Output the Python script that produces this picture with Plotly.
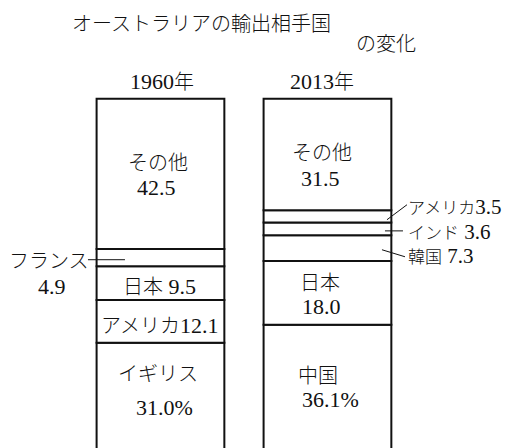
import plotly.graph_objects as go

# Export partners of Australia, share of exports (%), listed top to bottom
years = ["1960", "2013"]
partners_1960 = ["その他", "フランス", "日本", "アメリカ", "イギリス"]
shares_1960 = [42.5, 4.9, 9.5, 12.1, 31.0]
partners_2013 = ["その他", "アメリカ", "インド", "韓国", "日本", "中国"]
shares_2013 = [31.5, 3.5, 3.6, 7.3, 18.0, 36.1]

title_main = "オーストラリアの輸出相手国"
title_sub = "の変化"

W, H = 517, 448
TOP = 97
NUM = "Liberation Serif"
JP = "Noto Sans CJK JP"
INK = "#111111"
NUM_SIZE = 22
JP_SIZE = 20


def jp(s, size=JP_SIZE):
    """Wrap Japanese text in a span using the gothic face."""
    return f"<span style='font-family:{JP};font-size:{size}px;font-weight:300'>{s}</span>"


def num(s, size=NUM_SIZE):
    return f"<span style='font-size:{size}px'>{s}</span>"


def stack(names, vals):
    """Return bottom-up bases and segment midpoints keyed by partner name."""
    names_up = list(reversed(names))
    vals_up = list(reversed(vals))
    bases, mids, acc = [], {}, 0.0
    for n, v in zip(names_up, vals_up):
        bases.append(acc)
        mids[n] = acc + v / 2
        acc += v
    return names_up, vals_up, bases, mids


fig = go.Figure()
stacks = []
for i, (names, vals) in enumerate([(partners_1960, shares_1960), (partners_2013, shares_2013)]):
    n_up, v_up, b_up, mids = stack(names, vals)
    stacks.append((names, vals, mids))
    fig.add_trace(go.Bar(
        x=[i] * len(v_up), y=v_up, base=b_up, width=0.765,
        marker=dict(color="white", line=dict(color=INK, width=2)),
        hoverinfo="skip", showlegend=False,
    ))


def fmt(v, pct=False):
    return f"{v:.1f}" + ("%" if pct else "")


annotations = []


def label(text, xi, yv, dx, dy, anchor="center", size=NUM_SIZE):
    annotations.append(dict(
        text=text, x=xi, y=yv, xref="x", yref="y", showarrow=False,
        xanchor=anchor, yanchor="middle", xshift=dx, yshift=dy, align="left",
        font=dict(family=NUM, size=size, color=INK),
    ))


# 1960 labels
names, vals, mids = stacks[0]
v = dict(zip(names, vals))
label(jp("その他"), 0, mids["その他"], -2, 12)
label(fmt(v["その他"]), 0, mids["その他"], -4, -14)
label(jp("フランス"), 0, mids["フランス"], -111, -2)
label(fmt(v["フランス"]), 0, mids["フランス"], -108, -29)
label(jp("日本") + " " + fmt(v["日本"]), 0, mids["日本"], -1, -2)
label(jp("アメリカ") + fmt(v["アメリカ"]), 0, mids["アメリカ"], 0, -3)
label(jp("イギリス"), 0, mids["イギリス"], -2, 25)
label(fmt(v["イギリス"], pct=True), 0, mids["イギリス"], 4, -10)

# 2013 labels
names, vals, mids = stacks[1]
v = dict(zip(names, vals))
label(jp("その他"), 1, mids["その他"], -5, 3)
label(fmt(v["その他"]), 1, mids["その他"], -7, -24)
# the three thin segments share one left-aligned block beside the bar
side = "<br>".join([
    jp("アメリカ", 17) + num(fmt(v["アメリカ"]), 21),
    jp("インド", 17) + num(" " + fmt(v["インド"]), 21),
    jp("韓国", 17) + num(" " + fmt(v["韓国"]), 21),
])
label(side, 1, mids["インド"], 79, -2.5, anchor="left", size=19)
label(jp("日本"), 1, mids["日本"], -7, 11)
label(fmt(v["日本"]), 1, mids["日本"], -6, -14)
label(jp("中国"), 1, mids["中国"], -9, 14)
label(fmt(v["中国"], pct=True), 1, mids["中国"], 3, -11)

# leader lines from thin segments to their outside labels
leaders = [
    (0, stacks[0][2]["フランス"], -72.5, -35.5, -2, -2),
    (1, stacks[1][2]["アメリカ"], 59.5, 79.5, -3.4, 11.6),
    (1, stacks[1][2]["インド"], 57.5, 75.5, -2, -2),
    (1, stacks[1][2]["韓国"], 54.5, 77.5, -1.6, -8.6),
]
shapes = []
for xi, ym, x0, x1, y0, y1 in leaders:
    shapes.append(dict(
        type="line", xref="x", yref="y",
        xsizemode="pixel", xanchor=xi, x0=x0, x1=x1,
        ysizemode="pixel", yanchor=ym, y0=y0, y1=y1,
        line=dict(color=INK, width=1),
    ))

plot_h = H - TOP


def py(px):
    return (H - px) / plot_h


annotations.append(dict(text=title_main, x=70 / W, y=py(23), xref="paper", yref="paper",
                        xanchor="left", yanchor="middle", showarrow=False,
                        font=dict(family=JP, size=20, color=INK, weight=300)))
annotations.append(dict(text=title_sub, x=386 / W, y=py(42), xref="paper", yref="paper",
                        xanchor="center", yanchor="middle", showarrow=False,
                        font=dict(family=JP, size=20, color=INK, weight=300)))
for i, yr in enumerate(years):
    annotations.append(dict(text=yr + jp("年"), x=i, y=py(80), xref="x", yref="paper",
                            xanchor="center", yanchor="middle", showarrow=False,
                            xshift=(2 if i == 0 else -5),
                            font=dict(family=NUM, size=NUM_SIZE, color=INK)))

ppu = 3.536  # pixels per percentage point
fig.update_layout(
    width=W, height=H,
    margin=dict(l=0, r=0, t=TOP, b=0),
    paper_bgcolor="white", plot_bgcolor="white",
    barmode="overlay",
    xaxis=dict(range=[-0.961, 2.135], visible=False, fixedrange=True),
    yaxis=dict(range=[100.5 - plot_h / ppu, 100.5], visible=False, fixedrange=True),
    annotations=annotations,
    shapes=shapes,
)

fig.write_html("out.html")
